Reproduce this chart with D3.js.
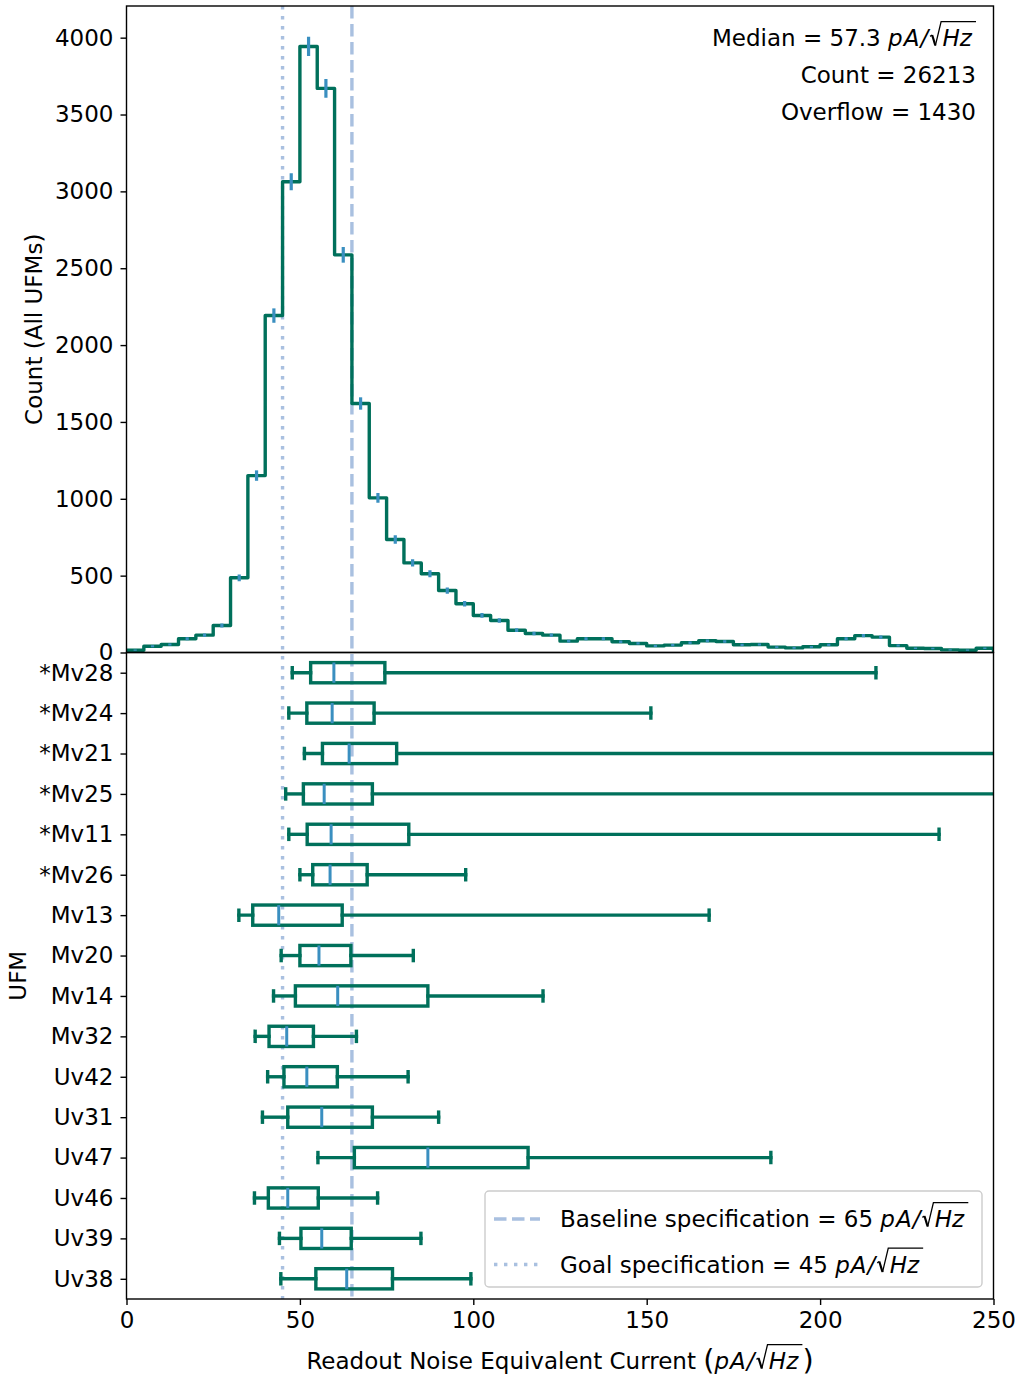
<!DOCTYPE html>
<html>
<head>
<meta charset="utf-8">
<script src="https://cdn.jsdelivr.net/npm/d3@7"></script>
<style>
  body { margin: 0; background: #fff; }
  svg text { white-space: pre; }
</style>
</head>
<body>
<div id="chart"></div>
<script>
// histogram of readout noise (all UFMs), 5 pA/rtHz bins
const BIN_EDGES = [0, 5, 10, 15, 20, 25, 30, 35, 40, 45, 50, 55, 60, 65, 70, 75, 80, 85, 90, 95,
    100, 105, 110, 115, 120, 125, 130, 135, 140, 145, 150, 155, 160, 165, 170, 175, 180, 185, 190, 195,
    200, 205, 210, 215, 220, 225, 230, 235, 240, 245, 250];
const COUNTS = [15, 41, 52, 89, 113, 176, 486, 1151, 2192, 3063,
    3943, 3670, 2587, 1620, 1006, 735, 583, 512, 403, 317,
    241, 208, 145, 124, 113, 74, 89, 89, 70, 59,
    43, 48, 63, 76, 72, 50, 52, 35, 30, 37,
    50, 89, 110, 100, 45, 28, 26, 17, 15, 28];
const COUNT_TICKS = [0, 500, 1000, 1500, 2000, 2500, 3000, 3500, 4000];

// per-UFM box plots
const UFMS = ["*Mv28", "*Mv24", "*Mv21", "*Mv25", "*Mv11", "*Mv26", "Mv13", "Mv20",
    "Mv14", "Mv32", "Uv42", "Uv31", "Uv47", "Uv46", "Uv39", "Uv38"];
const WHISKER_LO = [47.8, 46.8, 51.3, 45.9, 46.8, 50.0, 32.4, 44.6, 42.4, 37.1, 40.7, 39.2, 55.2, 36.9, 44.1, 44.5];
const Q1 = [53.1, 52.0, 56.5, 51.0, 52.1, 53.7, 36.4, 50.0, 48.7, 41.1, 45.4, 46.5, 65.7, 40.9, 50.3, 54.6];
const MEDIANS = [59.8, 59.3, 64.2, 57.0, 59.0, 58.7, 43.9, 55.5, 60.9, 46.2, 52.0, 56.3, 86.9, 46.5, 56.3, 63.5];
const Q3 = [74.5, 71.4, 77.9, 70.9, 81.4, 69.4, 62.2, 64.7, 86.9, 53.9, 60.8, 70.9, 115.8, 55.3, 64.8, 76.7];
const WHISKER_HI = [216.1, 151.2, 262.0, 270.0, 234.3, 97.8, 168.0, 82.7, 120.1, 66.3, 81.2, 90.0, 185.8, 72.4, 84.9, 99.3];

const X_TICKS = [0, 50, 100, 150, 200, 250];
const BASELINE_SPEC = 65;
const GOAL_SPEC = 45;
const MEDIAN_ALL = 57.3;
const COUNT_ALL = 26213;
const OVERFLOW = 1430;

const WIDTH = 1020, HEIGHT = 1379;
const LEFT = 126.5, RIGHT = 993.5, TOP = 6, MID = 652.5, BOTTOM = 1299;
const FS = 23;
const GREEN = "#00705b", BLUE = "#3a8fc0", SPEC = "#a9c0e0";
const LW = 3.4;

let svg = d3.select("#chart")
    .append("svg")
    .attr("width", WIDTH)
    .attr("height", HEIGHT)
    .style("font-family", "'DejaVu Sans', sans-serif")
    .style("font-size", FS + "px");

let defs = svg.append("defs");
defs.append("clipPath").attr("id", "clip-top")
    .append("rect").attr("x", LEFT).attr("y", TOP).attr("width", RIGHT - LEFT).attr("height", MID - TOP);
defs.append("clipPath").attr("id", "clip-bot")
    .append("rect").attr("x", LEFT).attr("y", MID).attr("width", RIGHT - LEFT).attr("height", BOTTOM - MID);

let x = d3.scaleLinear().domain([0, 250]).range([LEFT, RIGHT]);
let yHist = d3.scaleLinear().domain([0, 4206]).range([MID, TOP]);
let yBox = d3.scalePoint().domain(UFMS).range([MID, BOTTOM]).padding(0.5);
let band = yBox.step();

// text with an italic pA/sqrt(Hz) piece; radical drawn as a path
let mathText = (parent, px, py, parts, anchor) => {
    let g = parent.append("g");
    let cx = 0;
    parts.forEach(p => {
        let size = FS * (p.scale || 1);
        if (p.sqrt) {
            let r0 = cx;
            cx += FS * 0.58;
            let t = g.append("text").attr("x", cx).attr("y", 0)
                .style("font-style", "italic").text(p.sqrt);
            cx += t.node().getComputedTextLength();
            g.append("path")
                .attr("d", `M${r0 + 0.04 * FS},${-0.42 * FS}L${r0 + 0.13 * FS},${-0.48 * FS}`)
                .attr("stroke", "#000").attr("stroke-width", 1.3);
            g.append("path")
                .attr("d", `M${r0 + 0.13 * FS},${-0.48 * FS}L${r0 + 0.27 * FS},${-0.02 * FS}`)
                .attr("stroke", "#000").attr("stroke-width", 2.2);
            g.append("path")
                .attr("d", `M${r0 + 0.27 * FS},${-0.02 * FS}L${r0 + 0.52 * FS},${-1.06 * FS}H${cx + 0.18 * FS}`)
                .attr("fill", "none").attr("stroke", "#000").attr("stroke-width", 1.3);
            cx += 0.18 * FS;
        } else {
            let t = g.append("text").attr("x", cx).attr("y", p.dy || 0)
                .style("font-style", p.italic ? "italic" : "normal")
                .style("font-size", size + "px")
                .style("letter-spacing", p.italic ? "1px" : null)
                .text(p.t);
            cx += t.node().getComputedTextLength();
        }
    });
    let dx = anchor == "end" ? -cx : anchor == "middle" ? -cx / 2 : 0;
    g.attr("transform", `translate(${px + dx},${py})`);
};

let unitParts = [{ t: "pA/", italic: true }, { sqrt: "Hz" }];

// spec lines behind everything
let specLine = (v, dash) => svg.append("line")
    .attr("x1", x(v)).attr("x2", x(v))
    .attr("y1", TOP).attr("y2", BOTTOM)
    .attr("stroke", SPEC).attr("stroke-width", LW)
    .attr("stroke-dasharray", dash);
specLine(BASELINE_SPEC, "12.5,5.5");
specLine(GOAL_SPEC, "3.4,6.6");

// histogram steps
let stepPts = [[BIN_EDGES[0], 0]];
COUNTS.forEach((c, i) => {
    stepPts.push([BIN_EDGES[i], c]);
    stepPts.push([BIN_EDGES[i + 1], c]);
});
stepPts.push([BIN_EDGES[BIN_EDGES.length - 1], 0]);

svg.append("path")
    .attr("clip-path", "url(#clip-top)")
    .attr("d", d3.line().x(d => x(d[0])).y(d => yHist(d[1]))(stepPts))
    .attr("fill", "none")
    .attr("stroke", GREEN)
    .attr("stroke-width", LW)
    .attr("stroke-linejoin", "round");

svg.append("g")
    .attr("clip-path", "url(#clip-top)")
    .selectAll("line")
    .data(COUNTS)
    .enter()
    .append("line")
    .attr("x1", (d, i) => x((BIN_EDGES[i] + BIN_EDGES[i + 1]) / 2))
    .attr("x2", (d, i) => x((BIN_EDGES[i] + BIN_EDGES[i + 1]) / 2))
    .attr("y1", d => yHist(d - Math.sqrt(d)))
    .attr("y2", d => yHist(d + Math.sqrt(d)))
    .attr("stroke", BLUE)
    .attr("stroke-width", 3.2);

// box plots
let boxes = svg.append("g")
    .attr("clip-path", "url(#clip-bot)")
    .selectAll("g")
    .data(UFMS)
    .enter()
    .append("g")
    .attr("transform", d => `translate(0,${yBox(d)})`)
    .attr("stroke", GREEN)
    .attr("stroke-width", LW)
    .attr("fill", "none");

boxes.append("line")
    .attr("x1", (d, i) => x(WHISKER_LO[i])).attr("x2", (d, i) => x(Q1[i]))
    .attr("stroke-linecap", "square");
boxes.append("line")
    .attr("x1", (d, i) => x(Q3[i])).attr("x2", (d, i) => x(WHISKER_HI[i]))
    .attr("stroke-linecap", "square");
boxes.append("line")
    .attr("x1", (d, i) => x(WHISKER_LO[i])).attr("x2", (d, i) => x(WHISKER_LO[i]))
    .attr("y1", -band * 0.125).attr("y2", band * 0.125)
    .attr("stroke-linecap", "square");
boxes.append("line")
    .attr("x1", (d, i) => x(WHISKER_HI[i])).attr("x2", (d, i) => x(WHISKER_HI[i]))
    .attr("y1", -band * 0.125).attr("y2", band * 0.125)
    .attr("stroke-linecap", "square");
boxes.append("rect")
    .attr("x", (d, i) => x(Q1[i]))
    .attr("width", (d, i) => x(Q3[i]) - x(Q1[i]))
    .attr("y", -band * 0.25)
    .attr("height", band * 0.5);
boxes.append("line")
    .attr("x1", (d, i) => x(MEDIANS[i])).attr("x2", (d, i) => x(MEDIANS[i]))
    .attr("y1", -band * 0.25).attr("y2", band * 0.25)
    .attr("stroke", BLUE)
    .attr("stroke-width", 3);

// axes
let styleAxis = g => {
    g.select(".domain").remove();
    g.selectAll(".tick line").attr("stroke", "#000").attr("stroke-width", 1.4);
    g.selectAll(".tick text").attr("fill", "#000")
        .style("font-family", "'DejaVu Sans', sans-serif").style("font-size", FS + "px");
};

svg.append("g")
    .attr("transform", `translate(${LEFT},0)`)
    .call(d3.axisLeft(yHist).tickValues(COUNT_TICKS).tickFormat(d3.format("d")).tickSize(6).tickPadding(7))
    .call(styleAxis);

svg.append("g")
    .attr("transform", `translate(${LEFT},0)`)
    .call(d3.axisLeft(yBox).tickSize(6).tickPadding(7))
    .call(styleAxis);

svg.append("g")
    .attr("transform", `translate(0,${BOTTOM})`)
    .call(d3.axisBottom(x).tickValues(X_TICKS).tickFormat(d3.format("d")).tickSize(6).tickPadding(7))
    .call(styleAxis);

// frames
[[TOP, MID], [MID, BOTTOM]].forEach(r => svg.append("rect")
    .attr("x", LEFT).attr("y", r[0])
    .attr("width", RIGHT - LEFT).attr("height", r[1] - r[0])
    .attr("fill", "none").attr("stroke", "#000").attr("stroke-width", 1.4));

// axis labels
svg.append("text")
    .attr("transform", `translate(42, ${(TOP + MID) / 2})rotate(-90)`)
    .style("text-anchor", "middle")
    .text("Count (All UFMs)");

svg.append("text")
    .attr("transform", `translate(26, ${(MID + BOTTOM) / 2})rotate(-90)`)
    .style("text-anchor", "middle")
    .text("UFM");

mathText(svg, (LEFT + RIGHT) / 2, 1369, [
    { t: "Readout Noise Equivalent Current " },
    { t: "(", scale: 1.25, dy: 1 },
    ...unitParts,
    { t: ")", scale: 1.25, dy: 1 }
], "middle");

// stats text
mathText(svg, 976, 46, [{ t: `Median = ${MEDIAN_ALL} ` }, ...unitParts], "end");
svg.append("text").attr("x", 976).attr("y", 83).style("text-anchor", "end").text(`Count = ${COUNT_ALL}`);
svg.append("text").attr("x", 976).attr("y", 120).style("text-anchor", "end").text(`Overflow = ${OVERFLOW}`);

// legend
let legend = svg.append("g");
legend.append("rect")
    .attr("x", 485).attr("y", 1191)
    .attr("width", 497).attr("height", 96)
    .attr("rx", 4)
    .attr("fill", "#fff").attr("fill-opacity", 0.8)
    .attr("stroke", "#cccccc").attr("stroke-width", 1.4);
[[BASELINE_SPEC, "Baseline specification", "12.5,5.5", 1219], [GOAL_SPEC, "Goal specification", "3.4,6.6", 1264.5]]
    .forEach(d => {
        legend.append("line")
            .attr("x1", 494).attr("x2", 540)
            .attr("y1", d[3]).attr("y2", d[3])
            .attr("stroke", SPEC).attr("stroke-width", LW)
            .attr("stroke-dasharray", d[2]);
        mathText(legend, 560, d[3] + 8, [{ t: `${d[1]} = ${d[0]} ` }, ...unitParts], "start");
    });
</script>
</body>
</html>
